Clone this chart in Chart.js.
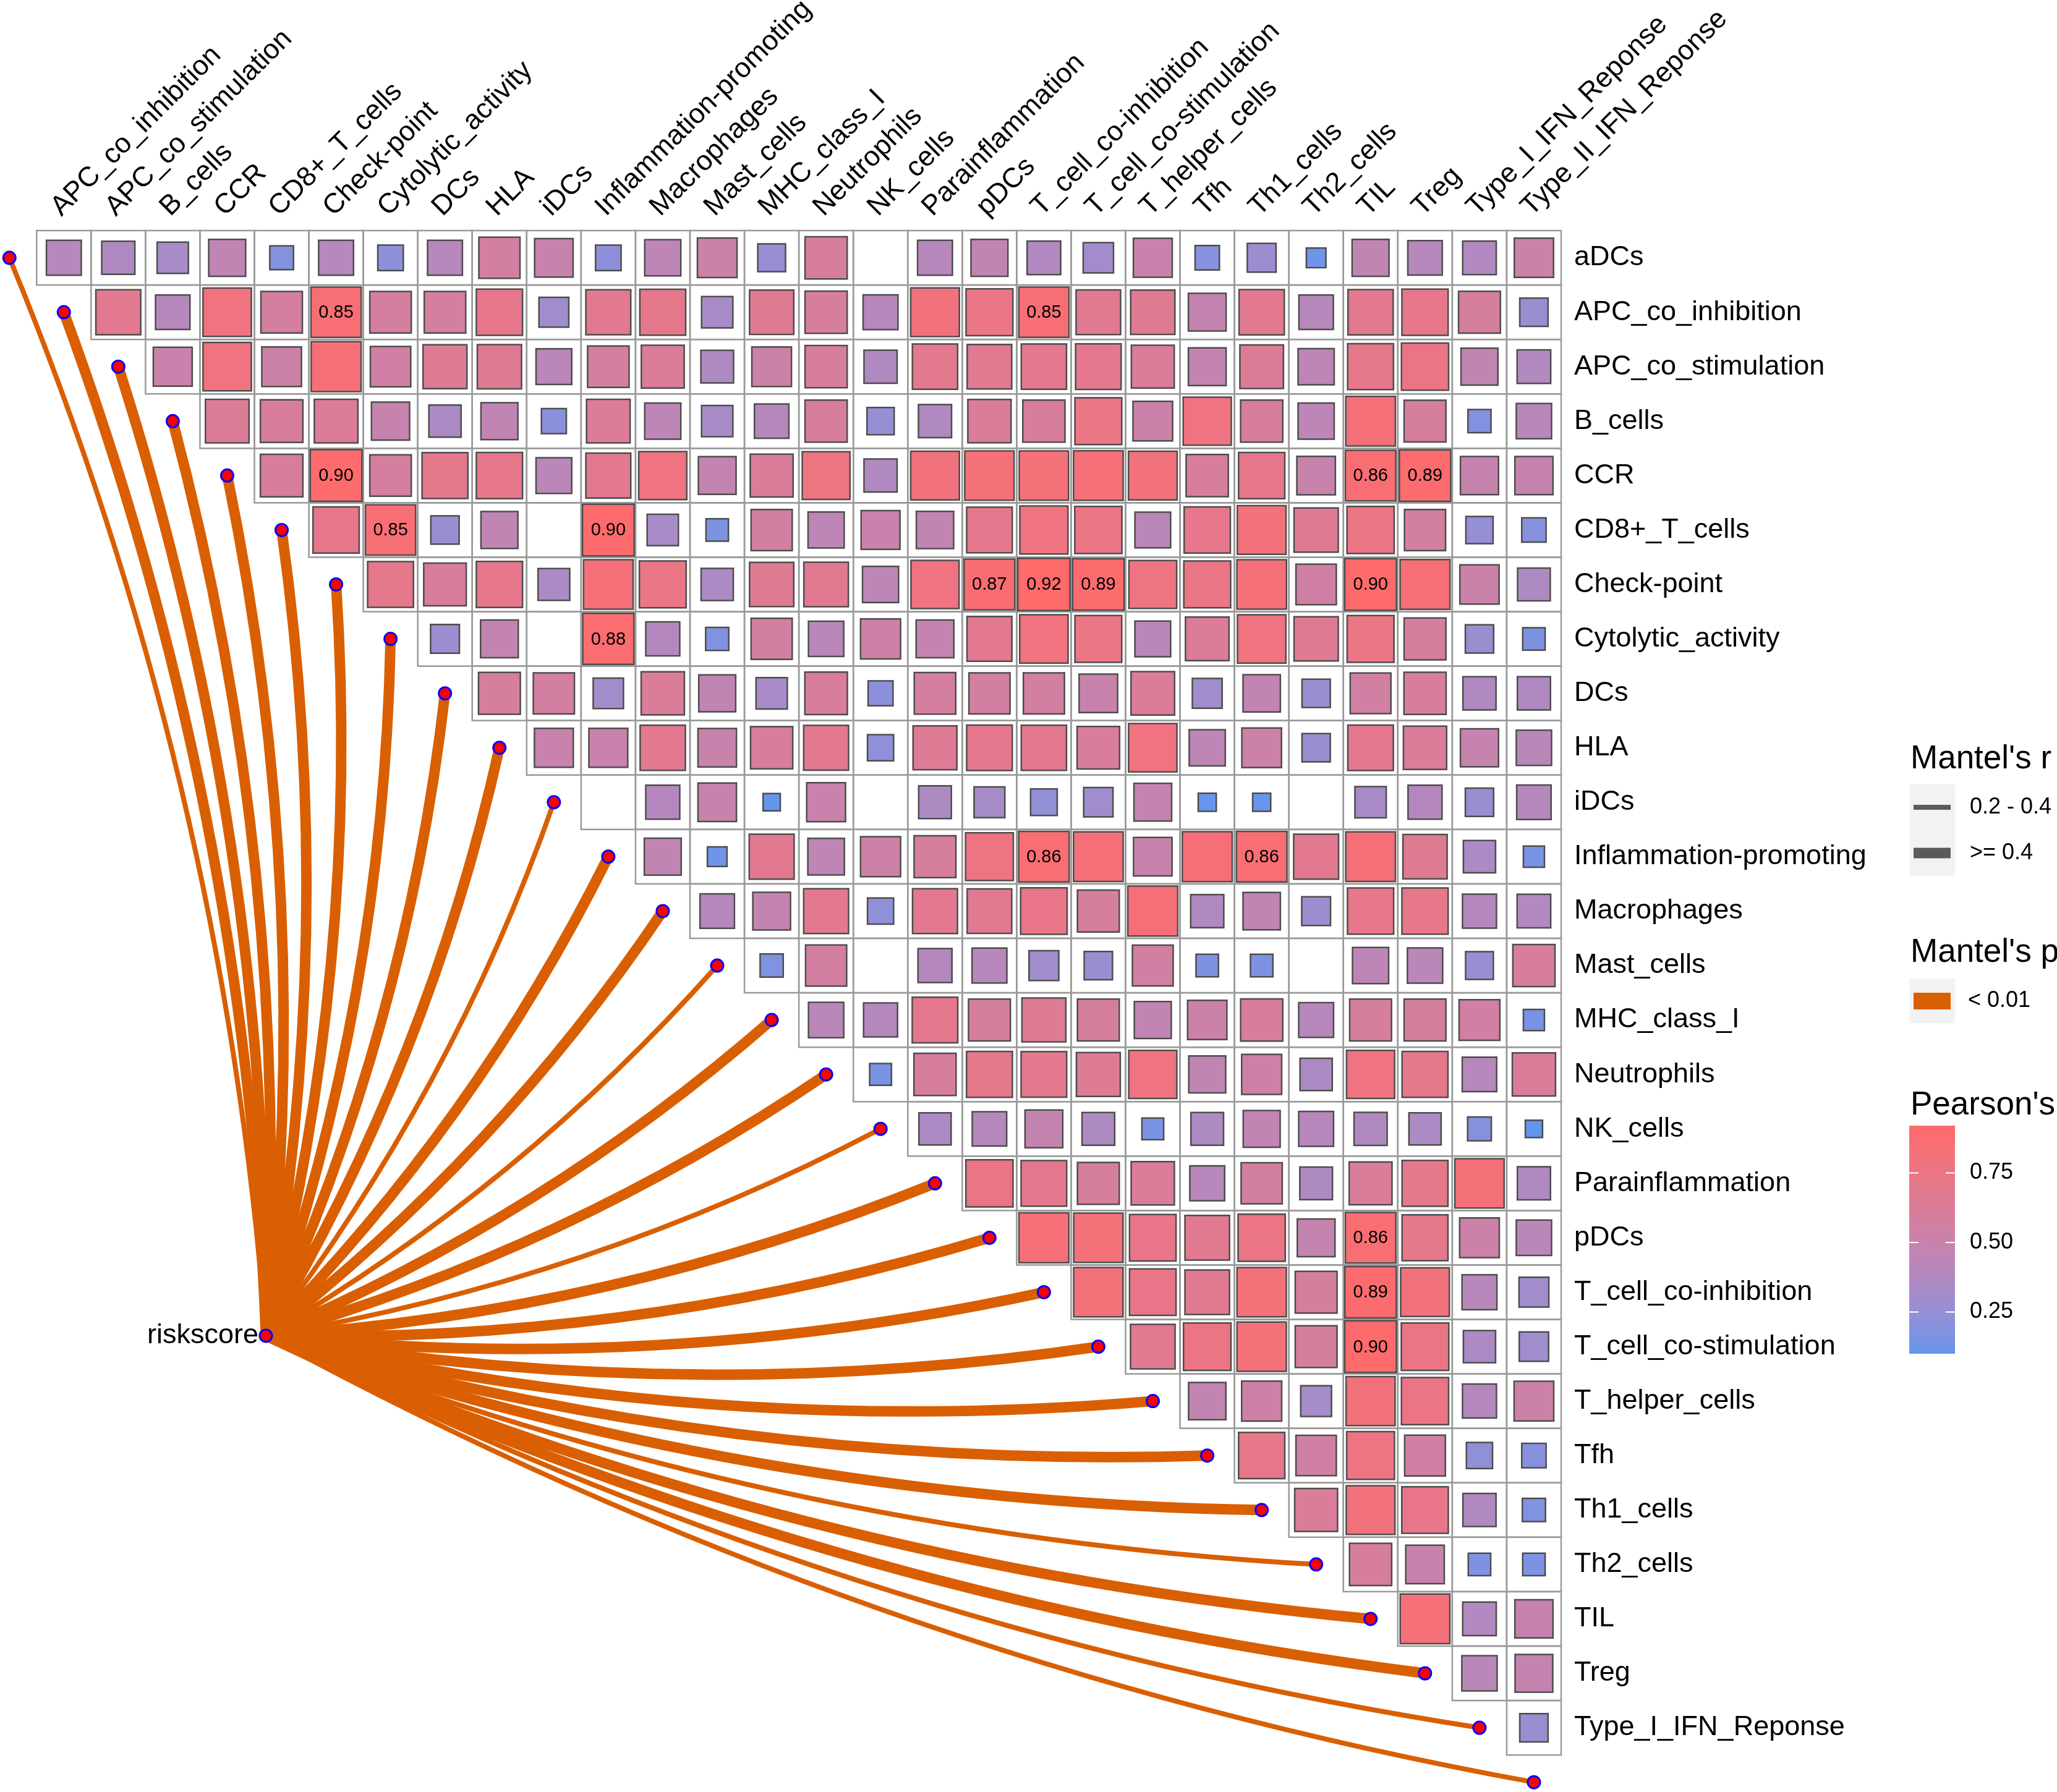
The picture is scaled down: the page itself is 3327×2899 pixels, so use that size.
<!DOCTYPE html>
<html>
<head>
<meta charset="utf-8">
<script src="https://cdn.jsdelivr.net/npm/chart.js@4.4.1/dist/chart.umd.min.js"></script>
<style>
  html, body { margin: 0; padding: 0; background: #fff; }
  #wrap { width: 3327px; height: 2899px; }
</style>
</head>
<body>
<div id="wrap"><canvas id="mantel" width="3327" height="2899"></canvas></div>
<script>
// variables of the correlation matrix (rows = first 28, columns = last 28)
const variables = ['aDCs', 'APC_co_inhibition', 'APC_co_stimulation', 'B_cells', 'CCR', 'CD8+_T_cells',
  'Check-point', 'Cytolytic_activity', 'DCs', 'HLA', 'iDCs', 'Inflammation-promoting', 'Macrophages',
  'Mast_cells', 'MHC_class_I', 'Neutrophils', 'NK_cells', 'Parainflammation', 'pDCs',
  'T_cell_co-inhibition', 'T_cell_co-stimulation', 'T_helper_cells', 'Tfh', 'Th1_cells', 'Th2_cells',
  'TIL', 'Treg', 'Type_I_IFN_Reponse', 'Type_II_IFN_Reponse'];

// Pearson's r, upper triangle: row i starts at column i (null = blank cell)
const pearsonRows = [
  [0.41, 0.37, 0.33, 0.46, 0.19, 0.41, 0.22, 0.41, 0.57, 0.50, 0.22, 0.44, 0.53, 0.26, 0.60, null, 0.41, 0.46, 0.38, 0.31, 0.51, 0.20, 0.28, 0.13, 0.46, 0.40, 0.38, 0.52],
  [0.68, 0.40, 0.79, 0.58, 0.85, 0.58, 0.58, 0.72, 0.30, 0.68, 0.71, 0.33, 0.66, 0.60, 0.41, 0.80, 0.74, 0.85, 0.67, 0.66, 0.48, 0.69, 0.40, 0.69, 0.72, 0.59, 0.27],
  [0.51, 0.79, 0.53, 0.84, 0.55, 0.65, 0.66, 0.43, 0.58, 0.62, 0.36, 0.53, 0.60, 0.37, 0.69, 0.67, 0.69, 0.70, 0.62, 0.48, 0.64, 0.44, 0.71, 0.75, 0.46, 0.38],
  [0.64, 0.61, 0.64, 0.49, 0.35, 0.46, 0.21, 0.64, 0.44, 0.33, 0.40, 0.60, 0.25, 0.37, 0.63, 0.60, 0.74, 0.53, 0.78, 0.60, 0.44, 0.83, 0.59, 0.18, 0.42],
  [0.61, 0.90, 0.58, 0.71, 0.72, 0.43, 0.68, 0.78, 0.48, 0.62, 0.77, 0.37, 0.80, 0.82, 0.82, 0.83, 0.80, 0.60, 0.72, 0.50, 0.86, 0.89, 0.49, 0.49],
  [0.72, 0.85, 0.27, 0.46, null, 0.90, 0.33, 0.17, 0.57, 0.44, 0.51, 0.47, 0.70, 0.78, 0.75, 0.43, 0.72, 0.80, 0.66, 0.75, 0.57, 0.25, 0.20],
  [0.71, 0.61, 0.72, 0.34, 0.83, 0.74, 0.35, 0.66, 0.67, 0.44, 0.78, 0.87, 0.92, 0.89, 0.77, 0.74, 0.83, 0.55, 0.90, 0.84, 0.52, 0.36],
  [0.28, 0.48, null, 0.88, 0.39, 0.18, 0.57, 0.42, 0.54, 0.48, 0.68, 0.79, 0.74, 0.43, 0.64, 0.79, 0.66, 0.74, 0.59, 0.27, 0.17],
  [0.59, 0.57, 0.31, 0.63, 0.46, 0.33, 0.61, 0.21, 0.58, 0.57, 0.57, 0.50, 0.64, 0.30, 0.47, 0.27, 0.56, 0.60, 0.37, 0.37],
  [0.51, 0.51, 0.69, 0.50, 0.60, 0.68, 0.23, 0.65, 0.70, 0.69, 0.61, 0.79, 0.44, 0.53, 0.27, 0.70, 0.63, 0.49, 0.42],
  [null, 0.39, 0.50, 0.10, 0.51, null, 0.36, 0.32, 0.24, 0.29, 0.48, 0.11, 0.11, null, 0.33, 0.39, 0.27, 0.40],
  [0.46, 0.13, 0.68, 0.45, 0.54, 0.59, 0.77, 0.86, 0.83, 0.50, 0.84, 0.86, 0.68, 0.83, 0.66, 0.35, 0.15],
  [0.40, 0.48, 0.68, 0.23, 0.68, 0.67, 0.73, 0.59, 0.84, 0.37, 0.47, 0.28, 0.72, 0.72, 0.39, 0.38],
  [0.18, 0.57, null, 0.39, 0.41, 0.30, 0.27, 0.56, 0.17, 0.17, null, 0.44, 0.42, 0.26, 0.60],
  [0.42, 0.39, 0.70, 0.59, 0.65, 0.59, 0.46, 0.52, 0.60, 0.41, 0.59, 0.59, 0.56, 0.15],
  [0.16, 0.60, 0.71, 0.70, 0.65, 0.78, 0.46, 0.54, 0.35, 0.78, 0.71, 0.40, 0.63],
  [0.35, 0.40, 0.48, 0.36, 0.16, 0.36, 0.46, 0.41, 0.37, 0.35, 0.19, 0.10],
  [0.75, 0.70, 0.59, 0.63, 0.41, 0.57, 0.36, 0.62, 0.71, 0.82, 0.37],
  [0.84, 0.82, 0.73, 0.67, 0.75, 0.48, 0.86, 0.71, 0.53, 0.42],
  [0.82, 0.73, 0.67, 0.82, 0.59, 0.89, 0.80, 0.41, 0.30],
  [0.67, 0.76, 0.82, 0.59, 0.90, 0.76, 0.35, 0.29],
  [0.47, 0.54, 0.32, 0.81, 0.75, 0.39, 0.53],
  [0.72, 0.55, 0.77, 0.56, 0.23, 0.20],
  [0.62, 0.80, 0.73, 0.37, 0.18],
  [0.60, 0.50, 0.17, 0.17],
  [0.83, 0.38, 0.49],
  [0.42, 0.48],
  [0.27]
];

// Mantel test riskscore vs each variable
const mantelRClass = ['0.2 - 0.4', '>= 0.4', '>= 0.4', '>= 0.4', '>= 0.4', '>= 0.4', '>= 0.4', '>= 0.4',
  '>= 0.4', '>= 0.4', '0.2 - 0.4', '>= 0.4', '>= 0.4', '0.2 - 0.4', '>= 0.4', '>= 0.4', '0.2 - 0.4',
  '>= 0.4', '>= 0.4', '>= 0.4', '>= 0.4', '>= 0.4', '>= 0.4', '>= 0.4', '0.2 - 0.4', '>= 0.4', '>= 0.4',
  '0.2 - 0.4', '0.2 - 0.4'];
const mantelPClass = ['< 0.01', '< 0.01', '< 0.01', '< 0.01', '< 0.01', '< 0.01', '< 0.01', '< 0.01',
  '< 0.01', '< 0.01', '< 0.01', '< 0.01', '< 0.01', '< 0.01', '< 0.01', '< 0.01', '< 0.01', '< 0.01',
  '< 0.01', '< 0.01', '< 0.01', '< 0.01', '< 0.01', '< 0.01', '< 0.01', '< 0.01', '< 0.01', '< 0.01', '< 0.01'];

const mantelRLevels = ['0.2 - 0.4', '>= 0.4'];
const mantelPLevels = ['< 0.01'];
const fillTicks = [0.25, 0.50, 0.75];
const labelThreshold = 0.85;

// where the riskscore node sits, in cell units
const riskAnchor = { x: 4.21, y: 20.3 };

const FONT = '"Liberation Sans", Arial, Helvetica, sans-serif';
const lineWidths = { '0.2 - 0.4': 8, '>= 0.4': 17 };
const pColors = { '< 0.01': '#D95F02' };

// ---- colour scale (Lab interpolation like ggplot2) ----
function toLab(hex) {
  const n = parseInt(hex.slice(1), 16);
  const [r, g, b] = [(n >> 16) & 255, (n >> 8) & 255, n & 255].map(c => {
    c /= 255;
    return c <= 0.04045 ? c / 12.92 : Math.pow((c + 0.055) / 1.055, 2.4);
  });
  const X = (0.4124564 * r + 0.3575761 * g + 0.1804375 * b) / 0.95047;
  const Y = 0.2126729 * r + 0.7151522 * g + 0.0721750 * b;
  const Z = (0.0193339 * r + 0.1191920 * g + 0.9503041 * b) / 1.08883;
  const f = t => t > 0.008856 ? Math.cbrt(t) : 7.787 * t + 16 / 116;
  const fx = f(X), fy = f(Y), fz = f(Z);
  return [116 * fy - 16, 500 * (fx - fy), 200 * (fy - fz)];
}
function fromLab([L, a, b]) {
  const fy = (L + 16) / 116, fx = fy + a / 500, fz = fy - b / 200;
  const inv = t => t * t * t > 0.008856 ? t * t * t : (t - 16 / 116) / 7.787;
  const X = inv(fx) * 0.95047, Y = inv(fy), Z = inv(fz) * 1.08883;
  const r = 3.2404542 * X - 1.5371385 * Y - 0.4985314 * Z;
  const g = -0.9692660 * X + 1.8760108 * Y + 0.0415560 * Z;
  const bl = 0.0556434 * X - 0.2040259 * Y + 1.0572252 * Z;
  const gam = c => {
    c = c <= 0.0031308 ? 12.92 * c : 1.055 * Math.pow(c, 1 / 2.4) - 0.055;
    return Math.round(Math.min(1, Math.max(0, c)) * 255);
  };
  return `rgb(${gam(r)},${gam(g)},${gam(bl)})`;
}
const LOW_LAB = toLab('#6495ED');
const HIGH_LAB = toLab('#FF6A6A');
const allValues = pearsonRows.flat().filter(v => v !== null);
const fillMin = Math.min(...allValues);
const fillMax = Math.max(...allValues);
function fillColor(v) {
  const t = Math.min(1, Math.max(0, (v - fillMin) / (fillMax - fillMin)));
  return fromLab(LOW_LAB.map((l, i) => l + (HIGH_LAB[i] - l) * t));
}

// ---- points for chart.js ----
const squarePoints = [];
pearsonRows.forEach((vals, r) => {
  vals.forEach((v, i) => {
    if (v === null) return;
    squarePoints.push({ x: r + i + 0.5, y: r + 0.5, v: v });
  });
});
// every variable sits on the diagonal, one step left of its first cell
const nodePoints = variables.map((name, k) => ({ x: k - 0.5, y: k + 0.5 }));
nodePoints.push({ x: riskAnchor.x, y: riskAnchor.y });

function cellSize(chart) {
  const xs = chart.scales.x;
  return Math.abs(xs.getPixelForValue(1) - xs.getPixelForValue(0));
}

const layers = {
  id: 'mantelLayers',
  beforeDatasetsDraw(chart) {
    const { ctx, scales: { x, y } } = chart;
    ctx.save();
    // grid of the upper triangle
    ctx.strokeStyle = '#9A9A9A';
    ctx.lineWidth = 2.5;
    pearsonRows.forEach((vals, r) => {
      vals.forEach((v, i) => {
        const c = r + i;
        const x0 = x.getPixelForValue(c), x1 = x.getPixelForValue(c + 1);
        const y0 = y.getPixelForValue(r), y1 = y.getPixelForValue(r + 1);
        ctx.strokeRect(x0, y0, x1 - x0, y1 - y0);
      });
    });
    // mantel curves
    const sx = x.getPixelForValue(riskAnchor.x), sy = y.getPixelForValue(riskAnchor.y);
    ctx.lineCap = 'butt';
    variables.forEach((name, k) => {
      const tx = x.getPixelForValue(k - 0.5), ty = y.getPixelForValue(k + 0.5);
      const dx = tx - sx, dy = ty - sy;
      const cx = (sx + tx) / 2 - 0.08 * dy, cy = (sy + ty) / 2 + 0.08 * dx;
      ctx.strokeStyle = pColors[mantelPClass[k]];
      ctx.lineWidth = lineWidths[mantelRClass[k]];
      ctx.beginPath();
      ctx.moveTo(sx, sy);
      ctx.quadraticCurveTo(cx, cy, tx, ty);
      ctx.stroke();
    });
    ctx.restore();
  },
  afterDatasetsDraw(chart) {
    const { ctx, scales: { x, y } } = chart;
    ctx.save();
    // values on strong correlations
    ctx.fillStyle = '#000';
    ctx.font = `29px ${FONT}`;
    ctx.textAlign = 'center';
    ctx.textBaseline = 'middle';
    squarePoints.forEach(p => {
      if (p.v >= labelThreshold) {
        ctx.fillText(p.v.toFixed(2), x.getPixelForValue(p.x), y.getPixelForValue(p.y) + 1);
      }
    });
    // row labels
    ctx.font = `45px ${FONT}`;
    ctx.textAlign = 'left';
    variables.slice(0, 28).forEach((name, r) => {
      ctx.fillText(name, x.getPixelForValue(28) + 21, y.getPixelForValue(r + 0.5));
    });
    // column labels, 45 degrees
    ctx.textBaseline = 'alphabetic';
    variables.slice(1).forEach((name, c) => {
      ctx.save();
      ctx.translate(x.getPixelForValue(c + 0.5) - 4, y.getPixelForValue(0) - 22);
      ctx.rotate(-Math.PI / 4);
      ctx.fillText(name, 0, 0);
      ctx.restore();
    });
    // riskscore label
    ctx.textAlign = 'right';
    ctx.textBaseline = 'middle';
    ctx.fillText('riskscore', x.getPixelForValue(riskAnchor.x) - 12, y.getPixelForValue(riskAnchor.y));
    ctx.restore();
    drawLegend(chart);
  }
};

function drawLegend(chart) {
  const ctx = chart.ctx;
  const kx = 3088, kw = 74, lx = 3186;
  ctx.save();
  ctx.textAlign = 'left';
  // Mantel's r
  ctx.fillStyle = '#000';
  ctx.font = `53px ${FONT}`;
  ctx.textBaseline = 'alphabetic';
  ctx.fillText("Mantel's r", 3090, 1243);
  ctx.fillStyle = '#F2F2F2';
  ctx.fillRect(kx, 1269, kw, 74 * mantelRLevels.length);
  mantelRLevels.forEach((lvl, i) => {
    const cy = 1306 + i * 74;
    ctx.strokeStyle = '#5A5A5A';
    ctx.lineWidth = lineWidths[lvl];
    ctx.beginPath();
    ctx.moveTo(kx + 7, cy);
    ctx.lineTo(kx + kw - 7, cy);
    ctx.stroke();
    ctx.fillStyle = '#000';
    ctx.font = `36px ${FONT}`;
    ctx.textBaseline = 'middle';
    ctx.fillText(lvl, lx, cy);
  });
  // Mantel's p
  ctx.font = `53px ${FONT}`;
  ctx.textBaseline = 'alphabetic';
  ctx.fillText("Mantel's p", 3090, 1556);
  ctx.fillStyle = '#F2F2F2';
  ctx.fillRect(kx, 1583, kw, 72 * mantelPLevels.length);
  mantelPLevels.forEach((lvl, i) => {
    const cy = 1619 + i * 72;
    ctx.fillStyle = pColors[lvl];
    ctx.fillRect(kx + 7, cy - 13, kw - 14, 27);
    ctx.fillStyle = '#000';
    ctx.font = `36px ${FONT}`;
    ctx.textBaseline = 'middle';
    ctx.fillText(lvl, lx - 3, cy);
  });
  // Pearson's r colourbar
  ctx.font = `53px ${FONT}`;
  ctx.textBaseline = 'alphabetic';
  ctx.fillText("Pearson's r", 3090, 1803);
  const top = 1821, bottom = 2190;
  const grad = ctx.createLinearGradient(0, bottom, 0, top);
  for (let s = 0; s <= 20; s++) {
    grad.addColorStop(s / 20, fillColor(fillMin + (fillMax - fillMin) * s / 20));
  }
  ctx.fillStyle = grad;
  ctx.fillRect(kx, top, kw, bottom - top);
  ctx.font = `36px ${FONT}`;
  ctx.textBaseline = 'middle';
  fillTicks.forEach(t => {
    const ty = bottom - (t - fillMin) / (fillMax - fillMin) * (bottom - top);
    ctx.strokeStyle = '#FFFFFF';
    ctx.lineWidth = 2;
    ctx.beginPath();
    ctx.moveTo(kx, ty); ctx.lineTo(kx + 15, ty);
    ctx.moveTo(kx + kw - 15, ty); ctx.lineTo(kx + kw, ty);
    ctx.stroke();
    ctx.fillStyle = '#000';
    ctx.fillText(t.toFixed(2), lx, ty);
  });
  ctx.restore();
}

new Chart(document.getElementById('mantel'), {
  type: 'scatter',
  data: {
    datasets: [
      {
        label: 'nodes',
        data: nodePoints,
        pointRadius: 10,
        pointBorderWidth: 3,
        pointBackgroundColor: '#FF0000',
        pointBorderColor: '#0000FF',
        order: 0
      },
      {
        label: "Pearson's r",
        data: squarePoints,
        pointStyle: 'rect',
        pointRadius: ctx => ctx.raw ? Math.sqrt(Math.abs(ctx.raw.v)) * cellSize(ctx.chart) / Math.SQRT2 : 0,
        pointBackgroundColor: ctx => ctx.raw ? fillColor(ctx.raw.v) : '#fff',
        pointBorderColor: '#4D4D4D',
        pointBorderWidth: 2.5,
        order: 1
      }
    ]
  },
  options: {
    responsive: false,
    devicePixelRatio: 1,
    animation: false,
    events: [],
    layout: { autoPadding: false, padding: { left: 2, right: 802, top: 373, bottom: 0 } },
    scales: {
      x: { type: 'linear', min: -0.65, max: 28, display: false },
      y: { type: 'linear', min: 0, max: 28.68, reverse: true, display: false }
    },
    plugins: {
      legend: { display: false },
      tooltip: { enabled: false }
    },
    datasets: { scatter: { clip: false } }
  },
  plugins: [layers]
});
</script>
</body>
</html>
